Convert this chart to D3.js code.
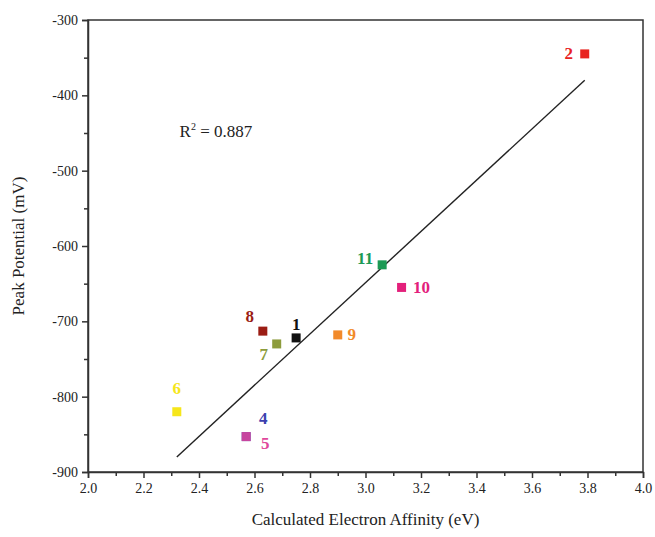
<!DOCTYPE html>
<html>
<head>
<meta charset="utf-8">
<script src="https://cdn.jsdelivr.net/npm/d3@7"></script>
<style>
  body { margin: 0; background: #fff; }
  text { font-family: "Liberation Serif", "Times New Roman", serif; }
</style>
</head>
<body>
<div id="chart"></div>
<script>
// compound data
const ids       = ['1', '2', '4', '5', '6', '7', '8', '9', '10', '11'];
const affinity  = [2.75, 3.79, 2.57, 2.57, 2.32, 2.68, 2.63, 2.90, 3.13, 3.06];
const potential = [-722, -345, -853, -853, -820, -730, -713, -718, -655, -625];
const colours   = ['#111111', '#e8231f', '#3b3fae', '#e0479c', '#f6e61a', '#8d9c3c', '#9b1d14', '#f28a2a', '#e3207b', '#1c9a55'];
// label offsets relative to each square (dx, dy)
const labelDx   = [0, -16, 17, 19, 0, -13, -13, 14, 20, -17];
const labelDy   = [-13, 0, -18, 7, -23, 11, -15, 0, 0, -6];

// fitted line end points
const fitX = [2.32, 3.79];
const fitY = [-880, -380];

const xTicks = [2.0, 2.2, 2.4, 2.6, 2.8, 3.0, 3.2, 3.4, 3.6, 3.8, 4.0];
const yTicks = [-300, -400, -500, -600, -700, -800, -900];

const W = 655, H = 537;
const margin = {left: 88, right: 12, top: 20, bottom: 65};
const width = W - margin.left - margin.right;
const height = H - margin.top - margin.bottom;

const svg = d3.select('#chart').append('svg')
    .attr('width', W)
    .attr('height', H);

const g = svg.append('g')
    .attr('transform', `translate(${margin.left}, ${margin.top})`);

const x = d3.scaleLinear().domain([2.0, 4.0]).range([0, width]);
const y = d3.scaleLinear().domain([-900, -300]).range([height, 0]);

// frame
g.append('rect')
    .attr('width', width)
    .attr('height', height)
    .style('fill', 'none')
    .style('stroke', '#333')
    .style('stroke-width', 1.5);

// x axis (major + minor)
g.append('g')
    .attr('transform', `translate(0, ${height})`)
    .call(d3.axisBottom(x).tickValues(xTicks).tickFormat(d => d.toFixed(1)).tickSize(6).tickPadding(5));
g.append('g')
    .attr('transform', `translate(0, ${height})`)
    .call(d3.axisBottom(x).tickValues(d3.range(2.1, 4.0, 0.2)).tickFormat('').tickSize(4))
    .call(a => a.select('.domain').remove());

// y axis (major + minor) - plain hyphen minus like the original
g.append('g')
    .call(d3.axisLeft(y).tickValues(yTicks).tickFormat(d => String(d)).tickSize(6).tickPadding(4));
g.append('g')
    .call(d3.axisLeft(y).tickValues(d3.range(-850, -300, 100)).tickFormat('').tickSize(4))
    .call(a => a.select('.domain').remove());

svg.selectAll('.domain, .tick line')
    .style('stroke', '#333')
    .style('stroke-width', 1.5);
svg.selectAll('.tick text')
    .style('font-size', '14px')
    .style('fill', '#222');

// fit line
g.append('line')
    .attr('x1', x(fitX[0]))
    .attr('y1', y(fitY[0]))
    .attr('x2', x(fitX[1]))
    .attr('y2', y(fitY[1]))
    .style('stroke', '#222')
    .style('stroke-width', 1.4);

// squares
const pts = ids.map((id, i) => ({id, ax: affinity[i], pot: potential[i], c: colours[i], dx: labelDx[i], dy: labelDy[i]}));
const s = 9;
g.append('g').selectAll('rect')
    .data(pts)
    .enter()
    .append('rect')
        .attr('x', d => x(d.ax) - s / 2)
        .attr('y', d => y(d.pot) - s / 2)
        .attr('width', s)
        .attr('height', s)
        .style('fill', d => d.c)
        .style('opacity', d => d.id === '5' ? 0.85 : 1);

// point labels
g.append('g').selectAll('text')
    .data(pts)
    .enter()
    .append('text')
        .attr('x', d => x(d.ax) + d.dx)
        .attr('y', d => y(d.pot) + d.dy)
        .attr('text-anchor', 'middle')
        .attr('dominant-baseline', 'central')
        .style('font-size', '17px')
        .style('font-weight', 'bold')
        .style('fill', d => d.c)
        .text(d => d.id);

// R squared note
const r2 = g.append('text')
    .attr('x', x(2.33))
    .attr('y', y(-455))
    .style('font-size', '17px')
    .style('fill', '#222');
r2.append('tspan').text('R');
r2.append('tspan').attr('dy', -7).style('font-size', '10px').text('2');
r2.append('tspan').attr('dy', 7).text(' = 0.887');

// axis titles
svg.append('text')
    .attr('x', margin.left + width / 2)
    .attr('y', H - 12)
    .attr('text-anchor', 'middle')
    .style('font-size', '17px')
    .style('fill', '#222')
    .text('Calculated Electron Affinity (eV)');

svg.append('text')
    .attr('transform', `translate(24, ${margin.top + height / 2}) rotate(-90)`)
    .attr('text-anchor', 'middle')
    .style('font-size', '17px')
    .style('fill', '#222')
    .text('Peak Potential (mV)');
</script>
</body>
</html>
